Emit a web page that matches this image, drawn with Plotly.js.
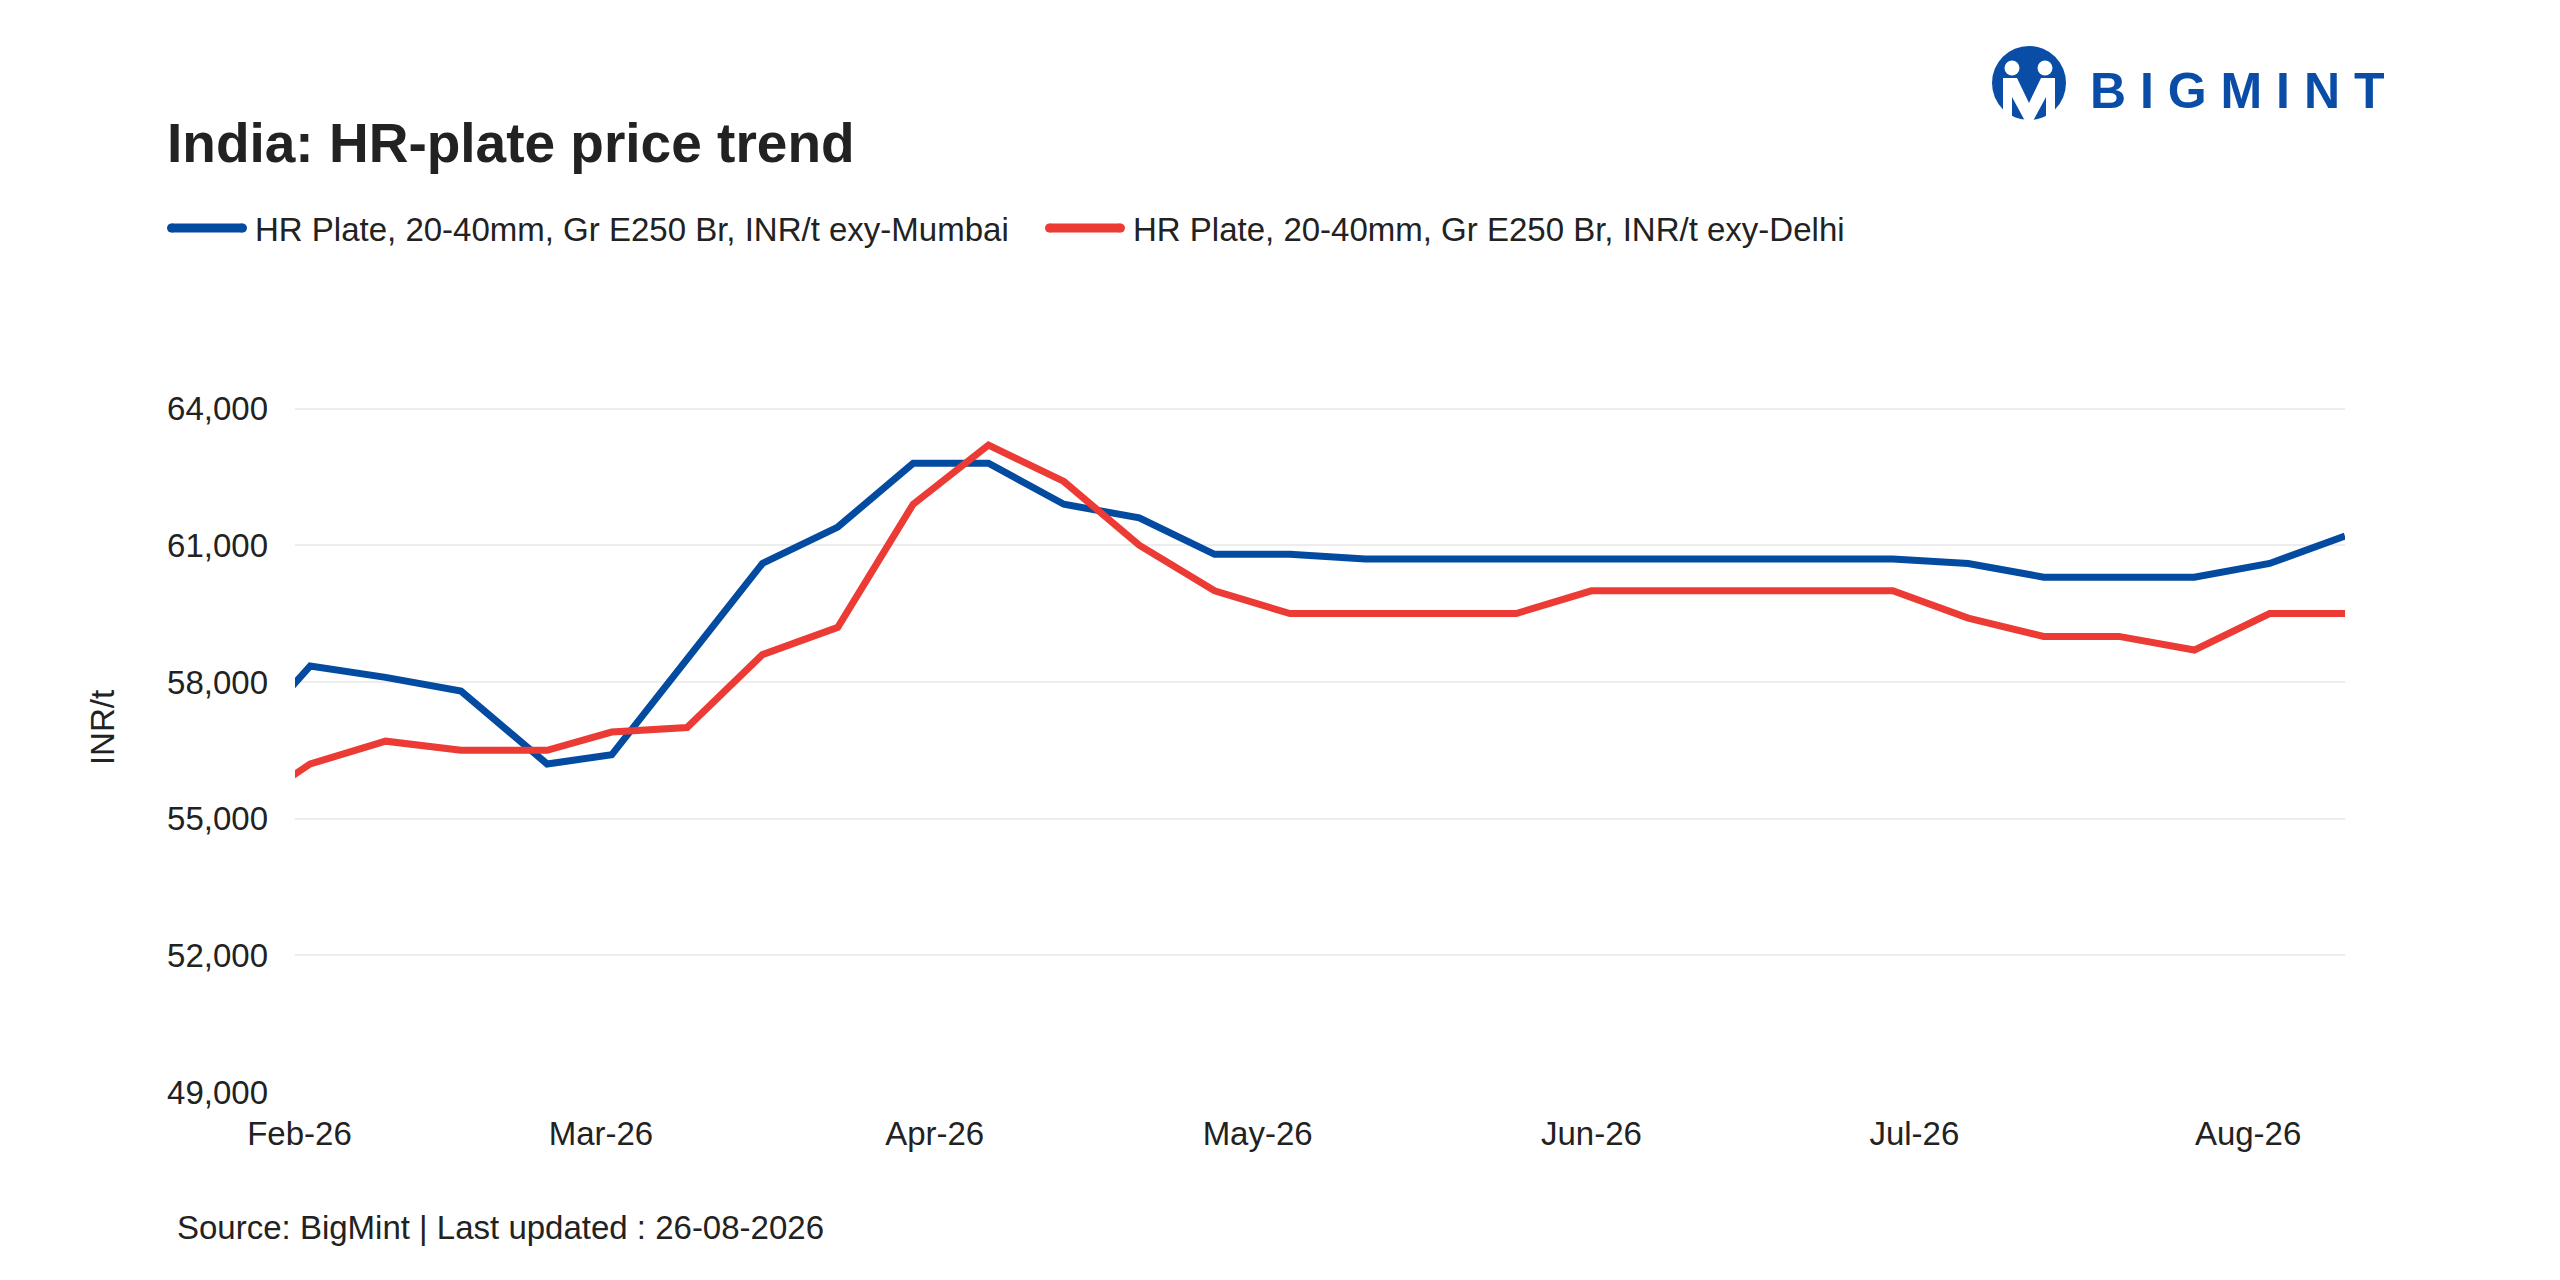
<!DOCTYPE html>
<html>
<head>
<meta charset="utf-8">
<script src="https://cdn.plot.ly/plotly-3.0.1.min.js"></script>
<style>
	body { margin: 0; background: #ffffff; }
	#chart { width: 2560px; height: 1280px; }
</style>
</head>
<body>
<div id="chart"></div>
<script>
// weekly prices, INR/t
var dates = ["2026-01-26", "2026-02-02", "2026-02-09", "2026-02-16", "2026-02-24",
	"2026-03-02", "2026-03-09", "2026-03-16", "2026-03-23", "2026-03-30",
	"2026-04-06", "2026-04-13", "2026-04-20", "2026-04-27", "2026-05-04",
	"2026-05-11", "2026-05-18", "2026-05-25", "2026-06-01", "2026-06-08",
	"2026-06-15", "2026-06-22", "2026-06-29", "2026-07-06", "2026-07-13",
	"2026-07-20", "2026-07-27", "2026-08-03", "2026-08-10"];

var mumbai = [56500, 58350, 58100, 57800, 56200,
	56400, 58500, 60600, 61400, 62800,
	62800, 61900, 61600, 60800, 60800,
	60700, 60700, 60700, 60700, 60700,
	60700, 60700, 60700, 60600, 60300,
	60300, 60300, 60600, 61200];

var delhi = [55100, 56200, 56700, 56500, 56500,
	56900, 57000, 58600, 59200, 61900,
	63200, 62400, 61000, 60000, 59500,
	59500, 59500, 59500, 60000, 60000,
	60000, 60000, 60000, 59400, 59000,
	59000, 58700, 59500, 59500];

var names = ["HR Plate, 20-40mm, Gr E250 Br, INR/t exy-Mumbai",
	"HR Plate, 20-40mm, Gr E250 Br, INR/t exy-Delhi"];
var colors = ["#034BA1", "#EC3A34"];
var yTicks = [49000, 52000, 55000, 58000, 61000, 64000];

var title = "India: HR-plate price trend";
var source = "Source: BigMint | Last updated : 26-08-2026";

var FONT = "Liberation Sans, Arial, sans-serif";
var TXT = "#222222";

// plot area in page pixels
var L = 295, R = 2345, T = 363, B = 1092;

function px(x)
{
	return (x - L) / (R - L);
}

function py(y)
{
	return (B - y) / (B - T);
}

function logoSvg()
{
	var s = '<svg xmlns="http://www.w3.org/2000/svg" width="82" height="78" viewBox="0 0 82 78">' +
		'<circle cx="41" cy="38" r="37" fill="#0A4DA6"/>' +
		'<circle cx="24" cy="23" r="7.5" fill="#fff"/>' +
		'<circle cx="57" cy="23" r="7.5" fill="#fff"/>' +
		'<path d="M15,76 L15,33 L29,33 L41,58 L53,33 L67,33 L67,76 L58,76 L58,52 L45,76 L37,76 L24,52 L24,76 Z" fill="#fff"/>' +
		'</svg>';
	return "data:image/svg+xml;base64," + btoa(s);
}

// legend swatch with round ends + label
function legendItem(x0, y, color, label)
{
	var r = 4.5;
	var shapes = [
		{
			type: "line", xref: "paper", yref: "paper",
			x0: px(x0 + r), x1: px(x0 + 80 - r), y0: py(y), y1: py(y),
			line: {color: color, width: 2 * r}
		},
		{
			type: "circle", xref: "paper", yref: "paper",
			x0: px(x0), x1: px(x0 + 2 * r), y0: py(y - r), y1: py(y + r),
			fillcolor: color, line: {width: 0}
		},
		{
			type: "circle", xref: "paper", yref: "paper",
			x0: px(x0 + 80 - 2 * r), x1: px(x0 + 80), y0: py(y - r), y1: py(y + r),
			fillcolor: color, line: {width: 0}
		}
	];
	var ann = {
		xref: "paper", yref: "paper", x: px(x0 + 86), y: py(y + 1),
		xanchor: "left", yanchor: "middle", showarrow: false,
		text: label, font: {family: FONT, size: 33, color: TXT}
	};
	return [shapes, ann];
}

function main()
{
	var traces = [];
	var series = [mumbai, delhi];
	for (var i = 0; i < series.length; i++)
	{
		traces.push({
			x: dates,
			y: series[i],
			name: names[i],
			type: "scatter",
			mode: "lines",
			line: {color: colors[i], width: 7},
			cliponaxis: true
		});
	}

	var leg1 = legendItem(167, 228, colors[0], names[0]);
	var leg2 = legendItem(1045, 228, colors[1], names[1]);

	var layout = {
		width: 2560,
		height: 1280,
		paper_bgcolor: "#ffffff",
		plot_bgcolor: "#ffffff",
		showlegend: false,
		margin: {l: L, r: 2560 - R, t: T, b: 1280 - B},
		font: {family: FONT, size: 33, color: TXT},
		title: {
			text: "<b>" + title + "</b>",
			x: 167 / 2560, xref: "container", xanchor: "left",
			y: 1 - 143 / 1280, yref: "container", yanchor: "middle",
			font: {family: FONT, size: 55, color: TXT}
		},
		xaxis: {
			type: "date",
			range: ["2026-01-31 14:00", "2026-08-10"],
			tick0: "2026-02-01",
			dtick: "M1",
			tickformat: "%b-%y",
			showgrid: false,
			zeroline: false,
			showline: false,
			ticks: "",
			ticklabelstandoff: 19,
			tickfont: {family: FONT, size: 33, color: TXT}
		},
		yaxis: {
			range: [49000, 65000],
			tickvals: yTicks,
			tickformat: ",d",
			showgrid: true,
			gridcolor: "#EDEDED",
			gridwidth: 2,
			zeroline: false,
			showline: false,
			ticks: "",
			ticklabelstandoff: 26,
			tickfont: {family: FONT, size: 33, color: TXT},
			title: {text: "INR/t", standoff: 42, font: {family: FONT, size: 33, color: TXT}}
		},
		shapes: leg1[0].concat(leg2[0]),
		annotations: [
			leg1[1], leg2[1],
			{
				xref: "paper", yref: "paper", x: px(175), y: py(1227),
				xanchor: "left", yanchor: "middle", showarrow: false,
				text: source, font: {family: FONT, size: 33, color: TXT}
			},
			{
				xref: "paper", yref: "paper", x: px(2088), y: py(91),
				xanchor: "left", yanchor: "middle", showarrow: false,
				text: "<b>B I G M I N T</b>", font: {family: FONT, size: 50, color: "#0A4DA6"}
			}
		],
		images: [{
			source: logoSvg(),
			xref: "paper", yref: "paper",
			x: px(1988), y: py(45),
			sizex: 82 / (R - L), sizey: 78 / (B - T),
			xanchor: "left", yanchor: "top",
			sizing: "stretch", layer: "above"
		}]
	};

	Plotly.newPlot("chart", traces, layout, {displayModeBar: false, staticPlot: true});
}

main();
</script>
</body>
</html>
